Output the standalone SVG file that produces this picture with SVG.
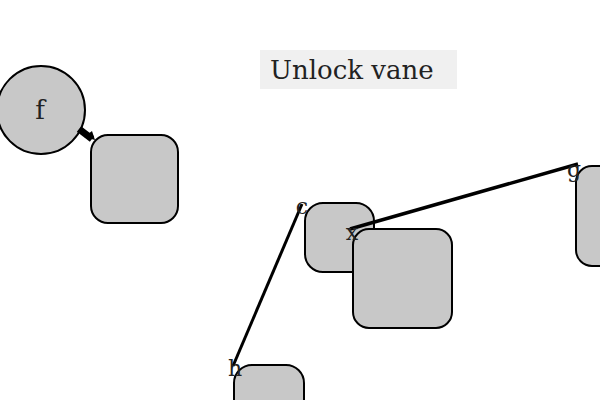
<svg xmlns="http://www.w3.org/2000/svg" width="600" height="400" viewBox="0 0 600 400">
<style>
.n{fill:#c8c8c8;stroke:#000;stroke-width:2}
.t{font-family:"DejaVu Serif","Liberation Serif",serif;fill:#222}
.e{stroke:#000;fill:none}
</style>
<rect width="600" height="400" fill="#fff"/>
<g id="f"><circle class="n" cx="41" cy="110" r="44"/><text class="t" x="40" y="119" font-size="26" text-anchor="middle">f</text></g>
<g id="r1"><rect class="n" x="91" y="135" width="87" height="88" rx="17"/></g>
<g id="x"><rect class="n" x="305" y="203" width="69" height="69" rx="18"/></g>
<g id="big"><rect class="n" x="353" y="229" width="99" height="99" rx="16"/></g>
<g id="g"><rect class="n" x="576" y="166" width="40" height="100" rx="16"/></g>
<g id="h"><rect class="n" x="234" y="365" width="70" height="60" rx="18"/></g>
<g id="connectors">
<line class="e" x1="79" y1="129" x2="92" y2="139" stroke-width="7"/>
<path d="M84,137 L95,140 L92,131 Z" fill="#000"/>
<line class="e" x1="302" y1="204" x2="233" y2="366" stroke-width="3"/>
<line class="e" x1="350" y1="229" x2="578" y2="164" stroke-width="3.5"/>
</g>
<g id="labels">
<text class="t" x="302" y="214" font-size="22" text-anchor="middle">c</text>
<text class="t" x="235" y="376" font-size="22" text-anchor="middle">h</text>
<text class="t" x="352" y="240" font-size="22" text-anchor="middle">x</text>
<text class="t" x="574" y="177" font-size="22" text-anchor="middle">g</text>
</g>
<g id="title"><rect x="260" y="50" width="197" height="39" fill="#f0f0f0"/><text class="t" x="270" y="79" font-size="26">Unlock vane</text></g>
</svg>
